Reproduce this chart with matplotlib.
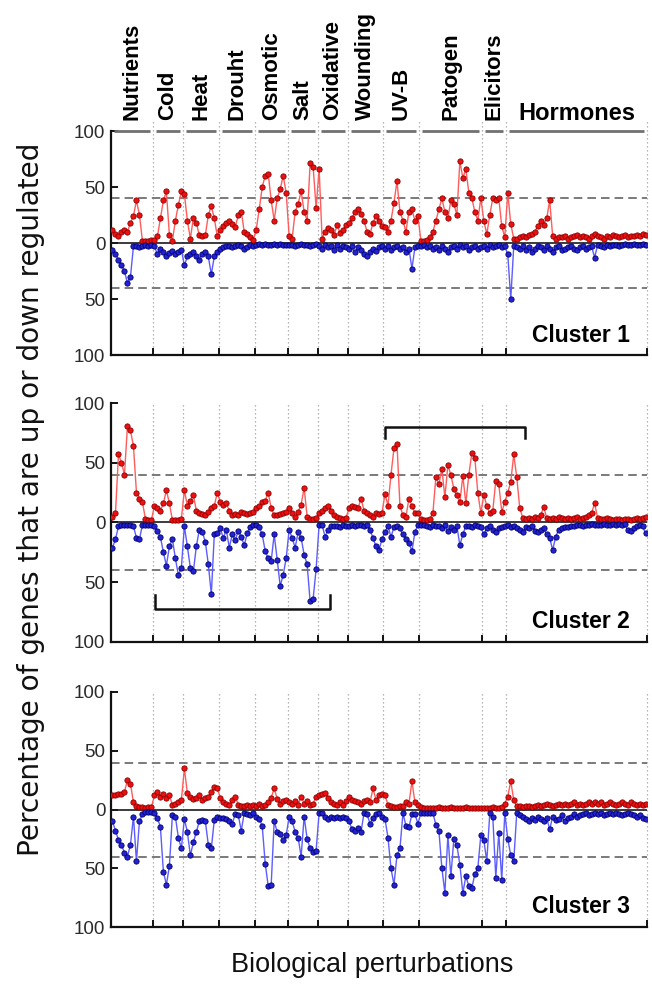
import matplotlib
matplotlib.use('Agg')
import matplotlib.pyplot as plt
import numpy as np

plt.rcParams['font.family'] = ['Liberation Sans', 'DejaVu Sans']

# ---------------- data ----------------
categories = ['Nutrients', 'Cold', 'Heat', 'Drouht', 'Osmotic', 'Salt', 'Oxidative',
              'Wounding', 'UV-B', 'Patogen', 'Elicitors', 'Hormones']
counts = [14, 10, 12, 12, 11, 10, 10, 12, 12, 21, 8, 47]
ytick_values = [-100, -50, 0, 50, 100]
ytick_labels = ['100', '50', '0', '50', '100']
cluster_names = ['Cluster 1', 'Cluster 2', 'Cluster 3']

# percentage of genes up-regulated (red) / down-regulated (blue, drawn below zero)
up1 = [12, 8, 6, 10, 12, 10, 18, 24, 38, 25, 2, 2, 2, 3,
       3, 6, 22, 38, 46, 7, 2, 20, 34, 46,
       44, 20, 4, 22, 18, 7, 6, 7, 25, 33, 22, 6,
       12, 15, 18, 20, 17, 14, 25, 28, 10, 8, 5, 3,
       12, 30, 50, 60, 62, 38, 20, 40, 48, 60, 45,
       6, 4, 28, 35, 46, 28, 20, 71, 68, 31,
       66, 4, 10, 13, 12, 7, 16, 9, 12, 16,
       18, 22, 28, 30, 26, 20, 10, 8, 18, 24, 20, 15,
       14, 10, 20, 36, 55, 28, 20, 10, 28, 30, 20, 24,
       2, 2, 3, 5, 10, 20, 30, 40, 28, 22, 38, 35, 25, 73, 58, 66, 45, 40, 28, 20, 40,
       20, 8, 25, 40, 38, 40, 15, 5,
       45, 17, 4, 4, 5, 6, 5, 7, 8, 10, 15, 20, 16, 22, 38, 6, 4, 5, 5, 6,
       4, 5, 6, 7, 5, 6, 5, 4, 6, 8, 6, 5, 4, 6, 5, 7, 6, 5, 6, 7, 5, 6, 6, 7, 6, 8, 7]
down1 = [6, 10, 15, 20, 25, 36, 30, 3, 3, 4, 3, 2, 3, 2,
         3, 10, 5, 8, 12, 9, 7, 10, 8, 6,
         20, 12, 10, 8, 12, 15, 10, 8, 12, 28, 12, 8,
         5, 4, 3, 3, 4, 3, 2, 3, 5, 4, 2, 3,
         2, 1, 2, 1, 2, 2, 1, 2, 1, 2, 2,
         2, 2, 3, 2, 1, 2, 2, 3, 2, 1,
         3, 5, 2, 4, 3, 6, 2, 5, 3, 4,
         5, 3, 8, 4, 6, 10, 12, 8, 5, 7, 4, 3,
         5, 3, 6, 4, 3, 5, 4, 8, 5, 23, 4, 3,
         3, 2, 4, 3, 5, 4, 6, 3, 5, 8, 4, 3, 5, 2, 4, 3, 6, 4, 3, 5, 4,
         3, 5, 2, 4, 3, 2, 4, 3,
         10, 50, 3, 4, 5, 3, 6, 4, 8, 5, 3, 4, 6, 3, 5, 8, 4, 3, 6, 5,
         4, 3, 5, 6, 4, 3, 5, 4, 3, 13, 2, 3, 4, 2, 3, 2, 2, 3, 2, 1, 2, 2, 1, 2, 2, 1, 2]

up2 = [5, 8, 57, 50, 40, 81, 77, 64, 25, 20, 17, 3, 2, 2,
       14, 12, 10, 16, 27, 16, 2, 2, 2, 3,
       27, 14, 18, 23, 10, 8, 7, 6, 9, 12, 14, 25,
       17, 15, 16, 10, 6, 7, 6, 9, 8, 7, 8, 9,
       12, 14, 17, 18, 25, 12, 6, 6, 7, 8, 9,
       12, 8, 5, 9, 15, 29, 5, 3, 3, 4,
       8, 10, 12, 14, 10, 6, 5, 4, 3, 4,
       12, 14, 13, 12, 20, 10, 8, 6, 5, 8, 7, 8,
       24, 14, 40, 62, 66, 14, 6, 5, 20, 14, 8, 8,
       3, 2, 2, 3, 8, 38, 32, 45, 21, 48, 40, 28, 23, 17, 39, 16, 40, 58, 54, 25, 8,
       23, 14, 8, 10, 35, 32, 9, 17,
       25, 34, 57, 38, 12, 4, 3, 4, 3, 5, 4, 6, 13, 4, 3, 4, 3, 5, 4, 3,
       4, 3, 4, 5, 3, 4, 5, 6, 8, 16, 4, 3, 3, 4, 3, 2, 3, 3, 2, 3, 3, 2, 3, 4, 3, 4, 5]
down2 = [21, 14, 3, 2, 2, 2, 2, 3, 13, 14, 2, 2, 2, 2,
         3, 7, 12, 25, 36, 20, 14, 30, 44, 38,
         3, 20, 38, 41, 20, 6, 8, 16, 35, 60, 10, 9,
         5, 13, 6, 21, 10, 15, 7, 12, 19, 9, 4, 2,
         2, 4, 10, 24, 30, 32, 10, 31, 53, 44, 30,
         6, 13, 21, 8, 13, 27, 35, 66, 64, 39,
         2, 2, 12, 6, 3, 3, 3, 4, 2, 3,
         3, 2, 3, 2, 2, 3, 2, 6, 13, 20, 23, 14,
         8, 3, 12, 4, 3, 5, 10, 14, 17, 24, 8, 2,
         2, 2, 3, 4, 2, 3, 3, 5, 2, 7, 4, 6, 3, 19, 10, 3, 3, 4, 2, 3, 4,
         10, 5, 3, 6, 8, 5, 4, 3,
         2, 4, 3, 5, 6, 8, 4, 5, 3, 7, 8, 6, 5, 10, 13, 23, 12, 6, 5, 4,
         4, 3, 3, 2, 2, 3, 2, 2, 1, 2, 2, 2, 1, 2, 2, 1, 2, 1, 2, 1, 6, 7, 5, 3, 2, 3, 9]

up3 = [12, 12, 13, 13, 15, 25, 22, 6, 3, 2, 2, 1, 2, 2,
       12, 15, 11, 13, 10, 12, 4, 5, 6, 8,
       35, 14, 11, 9, 10, 12, 8, 10, 11, 15, 19, 18,
       10, 6, 5, 4, 8, 11, 4, 3, 3, 4, 3, 4,
       3, 5, 3, 4, 6, 10, 18, 9, 5, 7, 8,
       6, 5, 7, 4, 11, 5, 7, 4, 5, 11,
       12, 13, 14, 10, 6, 5, 4, 6, 4, 7,
       11, 8, 7, 6, 5, 7, 8, 6, 18, 8, 12, 13,
       12, 4, 3, 2, 2, 3, 3, 6, 5, 24, 6, 4,
       2, 1, 1, 1, 1, 1, 2, 1, 1, 1, 2, 1, 1, 1, 1, 2, 1, 1, 1, 1, 1,
       1, 1, 1, 2, 1, 1, 2, 5,
       11, 24, 8, 3, 3, 2, 3, 3, 2, 3, 4, 3, 4, 5, 4, 3, 4, 5, 4, 5,
       4, 5, 6, 4, 5, 4, 5, 6, 5, 6, 5, 6, 4, 5, 6, 5, 4, 5, 6, 5, 4, 6, 5, 4, 5, 4, 5]
down3 = [10, 18, 26, 30, 37, 40, 30, 6, 44, 10, 4, 2, 2, 2,
         3, 7, 15, 53, 64, 48, 5, 6, 24, 33,
         8, 19, 39, 28, 19, 10, 9, 10, 30, 33, 9, 6,
         7, 7, 8, 10, 12, 4, 5, 18, 3, 4, 5, 3,
         6, 8, 14, 46, 65, 64, 10, 19, 21, 26, 22,
         6, 10, 19, 24, 40, 6, 25, 33, 36, 35,
         3, 3, 6, 8, 6, 7, 6, 7, 6, 7,
         10, 17, 18, 16, 19, 3, 4, 12, 7, 4, 3, 6,
         8, 24, 50, 64, 39, 33, 3, 14, 15, 4, 4, 12,
         3, 3, 3, 3, 3, 13, 18, 50, 71, 22, 57, 25, 30, 47, 71, 57, 65, 67, 55, 50, 22,
         26, 44, 3, 6, 58, 20, 60, 3,
         25, 39, 44, 3, 5, 6, 8, 10, 7, 9, 6, 8, 10, 7, 17, 6, 9, 8, 5, 10,
         7, 6, 4, 6, 5, 4, 3, 5, 4, 3, 4, 3, 5, 4, 3, 4, 3, 4, 5, 4, 3, 4, 5, 6, 5, 7, 8]

ups = [up1, up2, up3]
downs = [down1, down2, down3]

# bracket spans in cluster 2 (category index ranges)
bracket_up = (91.0, 137.8)
bracket_down = (14.2, 72.6)

# ---------------- figure ----------------
W, H = 652, 988
fig = plt.figure(figsize=(W / 100, H / 100), dpi=100)
panels = [(131, 355), (403, 642), (692, 927)]
x0, x1 = 111, 647
N = sum(counts)
x = np.arange(N)
bounds = np.cumsum([0] + counts) - 0.5

RED_LINE, RED_MK, RED_EDGE = '#ff5c5c', '#ee1010', '#8a0000'
BLUE_LINE, BLUE_MK, BLUE_EDGE = '#5c5cff', '#2222d4', '#00006a'

axes = []
for k, (top, bot) in enumerate(panels):
    ax = fig.add_axes([x0 / W, 1 - bot / H, (x1 - x0) / W, (bot - top) / H])
    axes.append(ax)
    ax.set_xlim(-0.5, N - 0.5)
    ax.set_ylim(-100, 100)
    for b in bounds[1:]:
        ax.plot([b, b], [-100, 110 if k == 0 else 100], color='#a0a0a0',
                ls=(0, (1, 2.2)), lw=0.9, clip_on=False, zorder=1)
    for yv in (40, -40):
        ax.axhline(yv, color='#7a7a7a', ls=(0, (4.4, 2.6)), lw=1.4, zorder=1)
    ax.axhline(0, color='#1a1a1a', lw=1.2, zorder=2)
    ax.plot(x, ups[k], color=RED_LINE, lw=1.0, marker='o', ms=3.8,
            mfc=RED_MK, mec=RED_EDGE, mew=0.6, zorder=3)
    ax.plot(x, -np.array(downs[k]), color=BLUE_LINE, lw=1.0, marker='o', ms=3.8,
            mfc=BLUE_MK, mec=BLUE_EDGE, mew=0.6, zorder=3)
    for s in ('top', 'right'):
        ax.spines[s].set_visible(False)
    for s in ('left', 'bottom'):
        ax.spines[s].set_linewidth(1.6)
        ax.spines[s].set_color('#111111')
    ax.set_yticks(ytick_values)
    ax.set_yticklabels(ytick_labels)
    ax.tick_params(axis='y', direction='in', length=5, width=1.3,
                   labelsize=13.5, pad=4, labelcolor='#2a2a2a')
    ax.set_xticks(bounds[1:])
    ax.set_xticklabels([])
    ax.tick_params(axis='x', direction='in', length=5, width=1.3)
    ax.text(0.968, 0.06, cluster_names[k], transform=ax.transAxes, ha='right',
            va='baseline', fontsize=16.5, fontweight='bold')

# category header on top of panel 1
ax = axes[0]
for i, name in enumerate(categories):
    a, b = bounds[i], bounds[i + 1]
    ax.plot([a + 1.0, b - 1.0], [100, 100], color='#707070', lw=2.0,
            clip_on=False, solid_capstyle='butt')
    c = (a + b) / 2
    if name == 'Hormones':
        ax.text(c, 110, name, ha='center', va='baseline', fontsize=17,
                fontweight='bold', clip_on=False)
    else:
        ax.text(c, 110, name, ha='center', va='bottom', rotation=90,
                fontsize=16, fontweight='bold', clip_on=False)

# brackets in cluster 2
ax = axes[1]
a, b = bracket_up
ax.plot([a, a, b, b], [71, 80, 80, 71], color='#111111', lw=1.8, clip_on=False)
a, b = bracket_down
ax.plot([a, a, b, b], [-61, -72, -72, -61], color='#111111', lw=1.8, clip_on=False)

# axis labels
fig.text(372 / W, 1 - 965 / H, 'Biological perturbations', ha='center',
         va='center', fontsize=19.5, color='#111111')
yl = fig.text(31 / W, 1 - 499 / H, 'Percentage of genes that are up or down regulated',
              ha='center', va='center', rotation=90, fontsize=20,
              family=['DejaVu Sans'], color='#111111')
fig.canvas.draw()
bb = yl.get_window_extent()
yl.set_fontsize(20 * 718 / bb.height)

fig.savefig('out.png', dpi=100)
